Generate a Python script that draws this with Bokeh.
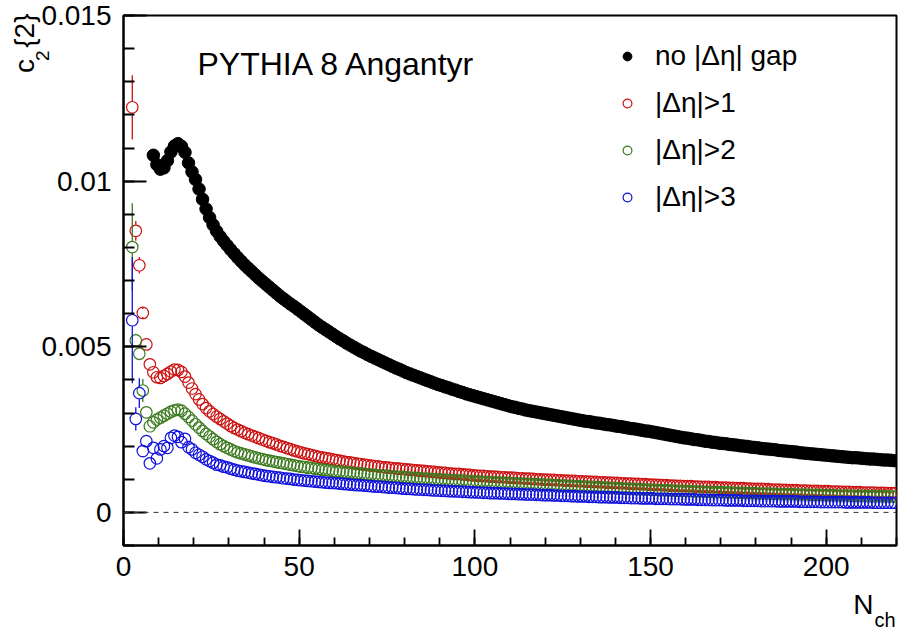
import numpy as np
from bokeh.plotting import figure
from bokeh.models import (Range1d, FixedTicker, Span, Label, Legend, LegendItem,
                          CustomJSTickFormatter, Title)
from bokeh.embed import file_html
from bokeh.resources import INLINE

# ---------------- data (c2{2} values in units of 1e-3) ----------------
first_bin_nogap = 9      # first N_ch bin of the "no gap" series
first_bin_gap = 3        # first N_ch bin of the eta-gap series

c2_nogap = [
    10.78, 10.50, 10.36, 10.40, 10.62, 10.88, 11.06, 11.13, 11.05, 10.87,
    10.55, 10.28, 10.05, 9.76, 9.45, 9.16, 8.90, 8.68, 8.49, 8.33,
    8.19, 8.06, 7.93, 7.81, 7.69, 7.58, 7.47, 7.37, 7.27, 7.17,
    7.07, 6.98, 6.89, 6.80, 6.71, 6.62, 6.53, 6.45, 6.37, 6.29,
    6.22, 6.14, 6.06, 5.98, 5.90, 5.82, 5.74, 5.66, 5.59, 5.52,
    5.45, 5.38, 5.31, 5.24, 5.18, 5.11, 5.05, 4.99, 4.93, 4.87,
    4.82, 4.76, 4.71, 4.66, 4.61, 4.56, 4.51, 4.46, 4.41, 4.36,
    4.32, 4.27, 4.22, 4.18, 4.14, 4.10, 4.06, 4.02, 3.98, 3.94,
    3.90, 3.86, 3.83, 3.79, 3.76, 3.72, 3.69, 3.65, 3.62, 3.58,
    3.55, 3.52, 3.49, 3.46, 3.43, 3.40, 3.37, 3.34, 3.31, 3.28,
    3.25, 3.22, 3.19, 3.17, 3.14, 3.12, 3.09, 3.07, 3.05, 3.03,
    3.01, 2.99, 2.97, 2.95, 2.93, 2.91, 2.89, 2.87, 2.85, 2.83,
    2.81, 2.79, 2.77, 2.75, 2.74, 2.72, 2.70, 2.69, 2.67, 2.65,
    2.64, 2.62, 2.60, 2.59, 2.57, 2.55, 2.53, 2.52, 2.50, 2.48,
    2.46, 2.45, 2.43, 2.41, 2.39, 2.37, 2.35, 2.33, 2.31, 2.29,
    2.27, 2.25, 2.24, 2.22, 2.20, 2.19, 2.17, 2.15, 2.14, 2.12,
    2.11, 2.09, 2.08, 2.07, 2.05, 2.04, 2.03, 2.01, 2.00, 1.99,
    1.97, 1.96, 1.95, 1.93, 1.92, 1.91, 1.90, 1.89, 1.87, 1.86,
    1.85, 1.84, 1.83, 1.82, 1.80, 1.79, 1.78, 1.77, 1.76, 1.75,
    1.74, 1.73, 1.72, 1.71, 1.70, 1.69, 1.68, 1.67, 1.66, 1.65,
    1.65, 1.64, 1.63, 1.62, 1.61, 1.61, 1.60, 1.59, 1.58, 1.58,
    1.57, 1.56,
]

c2_gap1 = [
    12.23, 8.50, 7.46, 6.02, 5.07, 4.47, 4.23, 4.08, 4.06, 4.12,
    4.18, 4.25, 4.31, 4.30, 4.24, 4.10, 3.92, 3.74, 3.57, 3.41,
    3.27, 3.15, 3.05, 2.97, 2.89, 2.82, 2.75, 2.68, 2.61, 2.55,
    2.50, 2.45, 2.40, 2.36, 2.32, 2.28, 2.24, 2.20, 2.16, 2.12,
    2.09, 2.05, 2.01, 1.98, 1.94, 1.91, 1.87, 1.84, 1.81, 1.78,
    1.76, 1.73, 1.71, 1.68, 1.66, 1.64, 1.62, 1.60, 1.58, 1.56,
    1.54, 1.52, 1.51, 1.49, 1.47, 1.46, 1.44, 1.43, 1.41, 1.40,
    1.39, 1.37, 1.36, 1.35, 1.34, 1.33, 1.32, 1.31, 1.30, 1.29,
    1.28, 1.27, 1.26, 1.25, 1.24, 1.23, 1.22, 1.21, 1.20, 1.19,
    1.18, 1.17, 1.16, 1.16, 1.15, 1.14, 1.13, 1.12, 1.11, 1.10,
    1.10, 1.09, 1.08, 1.08, 1.07, 1.06, 1.06, 1.05, 1.05, 1.04,
    1.03, 1.03, 1.02, 1.02, 1.01, 1.00, 1.00, 0.99, 0.99, 0.98,
    0.98, 0.97, 0.97, 0.96, 0.96, 0.95, 0.95, 0.94, 0.94, 0.93,
    0.93, 0.92, 0.92, 0.91, 0.91, 0.90, 0.90, 0.89, 0.89, 0.88,
    0.88, 0.87, 0.87, 0.86, 0.86, 0.85, 0.85, 0.84, 0.84, 0.83,
    0.83, 0.82, 0.82, 0.81, 0.81, 0.80, 0.80, 0.79, 0.79, 0.79,
    0.78, 0.78, 0.77, 0.77, 0.77, 0.76, 0.76, 0.75, 0.75, 0.75,
    0.74, 0.74, 0.73, 0.73, 0.73, 0.72, 0.72, 0.71, 0.71, 0.71,
    0.70, 0.70, 0.69, 0.69, 0.69, 0.68, 0.68, 0.67, 0.67, 0.67,
    0.66, 0.66, 0.66, 0.65, 0.65, 0.65, 0.64, 0.64, 0.64, 0.63,
    0.63, 0.63, 0.62, 0.62, 0.62, 0.61, 0.61, 0.61, 0.60, 0.60,
    0.60, 0.60, 0.59, 0.59, 0.59, 0.58, 0.58, 0.58,
]

c2_gap2 = [
    8.01, 5.19, 4.79, 3.68, 3.02, 2.60, 2.72, 2.80, 2.86, 2.92,
    2.98, 3.04, 3.08, 3.10, 3.07, 2.98, 2.88, 2.77, 2.66, 2.56,
    2.46, 2.37, 2.29, 2.21, 2.13, 2.06, 2.00, 1.95, 1.90, 1.85,
    1.81, 1.78, 1.75, 1.72, 1.69, 1.66, 1.63, 1.61, 1.58, 1.56,
    1.54, 1.52, 1.50, 1.48, 1.46, 1.44, 1.42, 1.40, 1.38, 1.37,
    1.35, 1.34, 1.32, 1.31, 1.29, 1.28, 1.27, 1.25, 1.24, 1.23,
    1.22, 1.21, 1.20, 1.19, 1.18, 1.17, 1.16, 1.15, 1.14, 1.13,
    1.12, 1.11, 1.11, 1.10, 1.09, 1.08, 1.07, 1.07, 1.06, 1.05,
    1.04, 1.04, 1.03, 1.02, 1.02, 1.01, 1.00, 1.00, 0.99, 0.98,
    0.98, 0.97, 0.97, 0.96, 0.96, 0.95, 0.94, 0.94, 0.93, 0.93,
    0.92, 0.92, 0.91, 0.91, 0.90, 0.90, 0.89, 0.89, 0.88, 0.88,
    0.87, 0.87, 0.86, 0.86, 0.85, 0.85, 0.84, 0.84, 0.83, 0.83,
    0.82, 0.82, 0.81, 0.81, 0.80, 0.80, 0.79, 0.79, 0.78, 0.78,
    0.77, 0.77, 0.76, 0.76, 0.75, 0.75, 0.74, 0.74, 0.73, 0.73,
    0.72, 0.72, 0.71, 0.71, 0.70, 0.70, 0.69, 0.69, 0.68, 0.68,
    0.67, 0.67, 0.67, 0.66, 0.66, 0.65, 0.65, 0.65, 0.64, 0.64,
    0.63, 0.63, 0.63, 0.62, 0.62, 0.62, 0.61, 0.61, 0.61, 0.60,
    0.60, 0.60, 0.59, 0.59, 0.59, 0.58, 0.58, 0.58, 0.57, 0.57,
    0.57, 0.57, 0.56, 0.56, 0.56, 0.55, 0.55, 0.55, 0.55, 0.54,
    0.54, 0.54, 0.54, 0.53, 0.53, 0.53, 0.53, 0.52, 0.52, 0.52,
    0.52, 0.51, 0.51, 0.51, 0.51, 0.50, 0.50, 0.50, 0.50, 0.50,
    0.49, 0.49, 0.49, 0.49, 0.49, 0.48, 0.48, 0.48,
]

c2_gap3 = [
    5.80, 2.82, 3.60, 1.85, 2.15, 1.48, 1.95, 1.63, 1.90, 2.00,
    1.95, 2.25, 2.32, 2.28, 2.12, 2.22, 1.97, 1.90, 1.80, 1.74,
    1.68, 1.60, 1.55, 1.50, 1.44, 1.42, 1.38, 1.36, 1.32, 1.29,
    1.26, 1.24, 1.22, 1.20, 1.18, 1.16, 1.14, 1.12, 1.10, 1.09,
    1.07, 1.06, 1.05, 1.03, 1.02, 1.01, 0.99, 0.98, 0.97, 0.96,
    0.95, 0.94, 0.93, 0.92, 0.91, 0.90, 0.89, 0.89, 0.88, 0.87,
    0.86, 0.85, 0.84, 0.83, 0.82, 0.82, 0.81, 0.80, 0.79, 0.78,
    0.78, 0.77, 0.76, 0.75, 0.75, 0.74, 0.73, 0.72, 0.71, 0.71,
    0.70, 0.69, 0.69, 0.68, 0.68, 0.67, 0.66, 0.66, 0.65, 0.65,
    0.64, 0.64, 0.63, 0.63, 0.62, 0.62, 0.61, 0.61, 0.60, 0.60,
    0.59, 0.59, 0.58, 0.58, 0.58, 0.57, 0.57, 0.56, 0.56, 0.56,
    0.55, 0.55, 0.54, 0.54, 0.54, 0.53, 0.53, 0.52, 0.52, 0.52,
    0.51, 0.51, 0.50, 0.50, 0.50, 0.49, 0.49, 0.48, 0.48, 0.48,
    0.47, 0.47, 0.47, 0.46, 0.46, 0.46, 0.45, 0.45, 0.45, 0.44,
    0.44, 0.44, 0.43, 0.43, 0.43, 0.42, 0.42, 0.42, 0.42, 0.41,
    0.41, 0.41, 0.41, 0.40, 0.40, 0.40, 0.40, 0.39, 0.39, 0.39,
    0.39, 0.38, 0.38, 0.38, 0.38, 0.37, 0.37, 0.37, 0.37, 0.36,
    0.36, 0.36, 0.36, 0.36, 0.35, 0.35, 0.35, 0.35, 0.35, 0.34,
    0.34, 0.34, 0.34, 0.34, 0.33, 0.33, 0.33, 0.33, 0.33, 0.33,
    0.32, 0.32, 0.32, 0.32, 0.32, 0.32, 0.31, 0.31, 0.31, 0.31,
    0.31, 0.31, 0.31, 0.30, 0.30, 0.30, 0.30, 0.30, 0.30, 0.30,
    0.30, 0.29, 0.29, 0.29, 0.29, 0.29, 0.29, 0.29,
]

# statistical errors that are visible (first low-multiplicity bins), 1e-3 units
err_gap1 = [0.97, 0.30, 0.25, 0.12]
err_gap2 = [1.32, 0.20, 0.20, 0.35]
err_gap3 = [1.90, 0.35, 0.45, 0.15]

labels = ["no |\u0394\u03b7| gap", "|\u0394\u03b7|>1", "|\u0394\u03b7|>2", "|\u0394\u03b7|>3"]
colors = ["black", "#cc1111", "#3b7a1e", "#1111dd"]

x_ticks = [0, 50, 100, 150, 200]
y_ticks = [0, 0.005, 0.01, 0.015]

# ---------------- figure ----------------
FONT = "Liberation Sans"
X0, X1 = 0, 220
Y0, Y1 = -0.001, 0.015
FRAME_H = 633 - 15 - 88

p = figure(width=900, height=633, output_backend="svg", toolbar_location=None,
           x_range=Range1d(X0, X1), y_range=Range1d(Y0, Y1),
           min_border_left=123, min_border_right=4, min_border_top=15,
           min_border_bottom=88)
p.grid.visible = False
p.outline_line_color = "black"
p.outline_line_width = 2
p.background_fill_color = "white"
p.border_fill_color = "white"

xa = p.xaxis[0]
xa.ticker = FixedTicker(ticks=x_ticks, minor_ticks=list(range(0, 221, 10)))
xa.major_tick_in, xa.major_tick_out = 16, 0
xa.minor_tick_in, xa.minor_tick_out = 8, 0
ya = p.yaxis[0]
ya.ticker = FixedTicker(ticks=y_ticks, minor_ticks=[i * 0.001 for i in range(-1, 16)])
ya.major_tick_in, ya.major_tick_out = 23, 0
ya.minor_tick_in, ya.minor_tick_out = 11, 0
ya.formatter = CustomJSTickFormatter(code="return String(tick);")
for ax in (xa, ya):
    ax.axis_line_width = 2
    ax.axis_line_color = "black"
    ax.major_tick_line_width = 1.8
    ax.minor_tick_line_width = 1.8
    ax.major_tick_line_color = "black"
    ax.minor_tick_line_color = "black"
    ax.major_label_text_font = FONT
    ax.major_label_text_font_size = "28px"
    ax.major_label_text_color = "black"
xa.major_label_standoff = 11
ya.major_label_standoff = 12

p.add_layout(Span(location=0, dimension="width", line_color="#333333",
                  line_width=1, line_dash="5 5"))

# marker radius in data units (to leave a gap in the error bars, ROOT style)
r_data = 6.0 * (Y1 - Y0) / FRAME_H

renderers = []
x_nogap = np.arange(len(c2_nogap)) + first_bin_nogap - 0.5
y_nogap = np.array(c2_nogap) * 1e-3
renderers.append(p.scatter(x_nogap, y_nogap, marker="circle", size=12.5,
                           fill_color="black", line_color="black"))

for vals, errs, col in zip([c2_gap1, c2_gap2, c2_gap3],
                           [err_gap1, err_gap2, err_gap3], colors[1:]):
    xs = np.arange(len(vals)) + first_bin_gap - 0.5
    ys = np.array(vals) * 1e-3
    n = len(errs)
    e = np.array(errs) * 1e-3
    ex = xs[:n]
    ey = ys[:n]
    p.segment(ex, ey + r_data, ex, ey + e, line_color=col, line_width=1.3)
    p.segment(ex, ey - e, ex, ey - r_data, line_color=col, line_width=1.3)
    renderers.append(p.scatter(xs, ys, marker="circle", size=11.5,
                               fill_color=None, line_color=col, line_width=1.2))

legend = Legend(items=[LegendItem(label=l, renderers=[r]) for l, r in zip(labels, renderers)],
                location=(493, 332), orientation="vertical",
                glyph_width=22, glyph_height=22, label_standoff=17, spacing=15,
                padding=0, margin=0, border_line_alpha=0, background_fill_alpha=0,
                label_text_font=FONT, label_text_font_size="28px",
                label_text_color="black")
p.add_layout(legend)

# title inside the frame (data coordinates)
p.add_layout(Label(x=21.06, y=0.013521, text="PYTHIA 8 Angantyr", text_font=FONT,
                   text_font_size="32px", text_color="black", text_align="left",
                   text_baseline="alphabetic"))

# axis titles (ROOT style, at the far end of each axis) as side-panel titles
def side_title(text, place, size, align, offset, valign, standoff):
    p.add_layout(Title(text=text, align=align, offset=offset, vertical_align=valign,
                       standoff=standoff, text_font=FONT, text_font_size=size,
                       text_font_style="normal", text_color="black"), place)

side_title("N", "below", "28px", "right", 23, "top", 20)
side_title("ch", "below", "20px", "right", 1, "top", -46)
side_title("2", "left", "19px", "right", 35, "bottom", -20)
side_title("c\u2009\u2009{2}", "left", "28px", "right", -2, "bottom", -2)

open("out.html", "w").write(file_html(p, INLINE))
